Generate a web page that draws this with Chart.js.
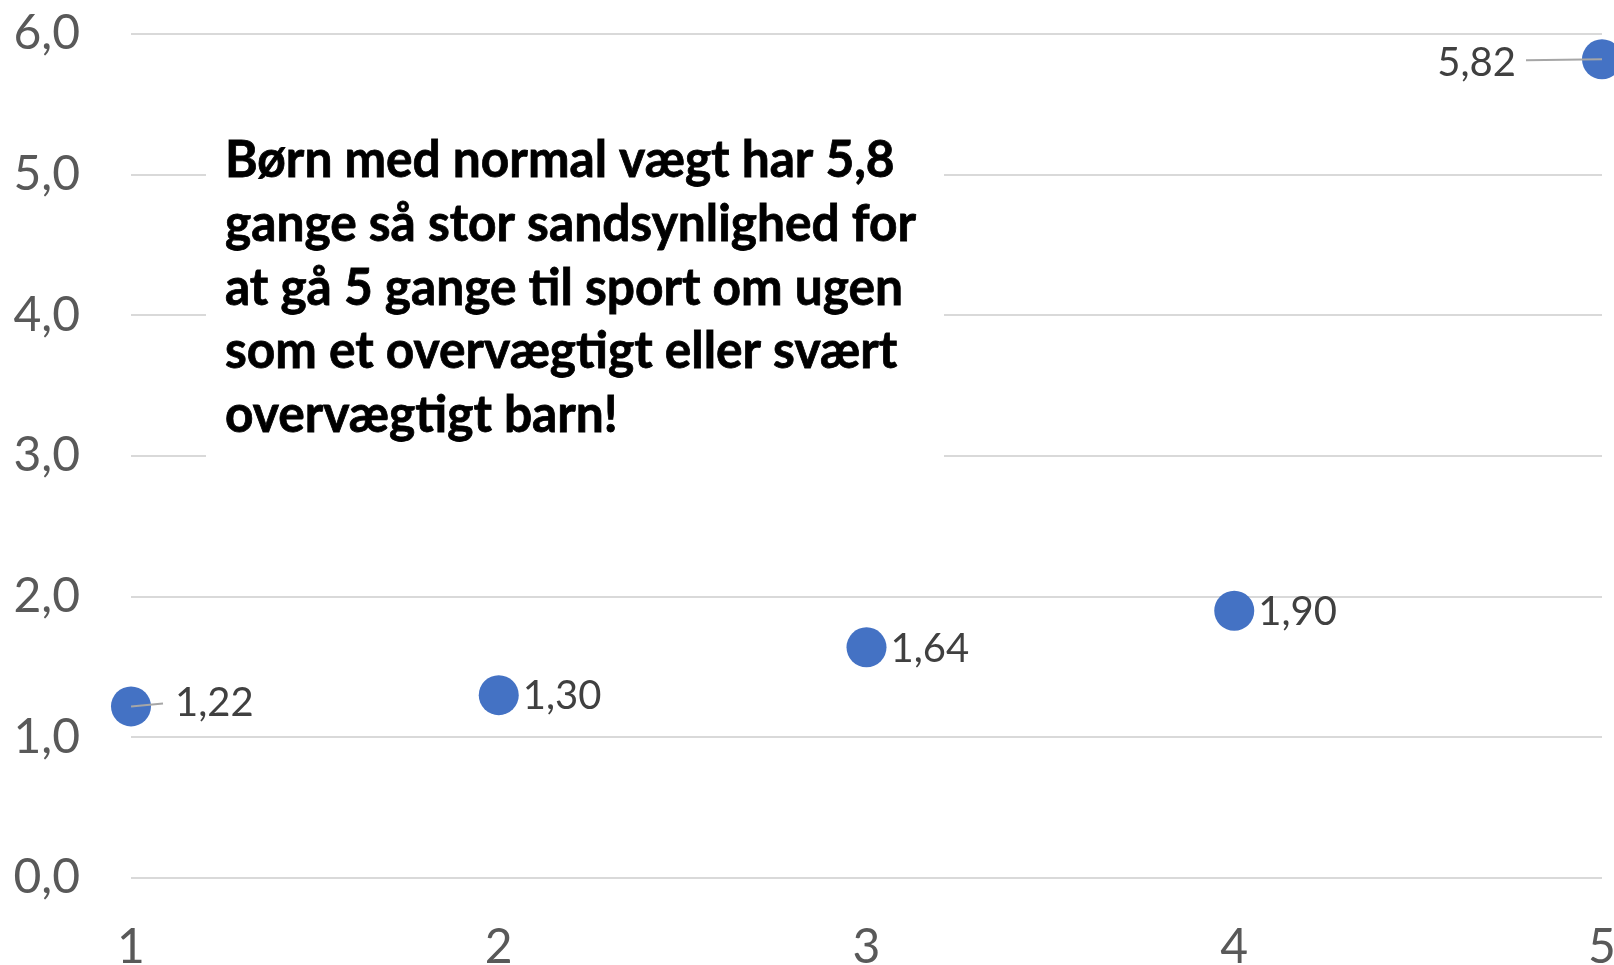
<!DOCTYPE html>
<html>
<head>
<meta charset="utf-8">
<script src="https://cdn.jsdelivr.net/npm/chart.js@4.4.1/dist/chart.umd.min.js"></script>
<style>
  html, body { margin: 0; padding: 0; background: #ffffff; overflow: hidden; }
  #wrap { width: 1614px; height: 965px; }
</style>
</head>
<body>
<div id="wrap"><canvas id="c" width="1614" height="965"></canvas></div>
<script>
// ---- data ----
const xValues = [1, 2, 3, 4, 5];
const yValues = [1.22, 1.30, 1.64, 1.90, 5.82];
const xTickValues = [1, 2, 3, 4, 5];
const yTickValues = [0, 1, 2, 3, 4, 5, 6];
const noteLines = [
  'Børn med normal vægt har 5,8',
  'gange så stor sandsynlighed for',
  'at gå 5 gange til sport om ugen',
  'som et overvægtigt eller svært',
  'overvægtigt barn!'
];

// ---- styles (label placement relative to each point) ----
const labelStyle = [
  { dx: 44, dy: -3, align: 'left', leader: [32, -3] },
  { dx: 24, dy: 1, align: 'left' },
  { dx: 24, dy: 2, align: 'left' },
  { dx: 24, dy: 1, align: 'left' },
  { dx: -86, dy: 4, align: 'right', leader: [-76, 1] }
];

const fmt = v => Number(v).toFixed(2).replace('.', ',');
const fmt1 = v => Number(v).toFixed(1).replace('.', ',');

const noteBoxPlugin = {
  id: 'noteBox',
  beforeDatasetsDraw(chart) {
    const ctx = chart.ctx;
    ctx.save();
    ctx.fillStyle = '#ffffff';
    ctx.fillRect(206, 128, 738, 342);
    let size = 52;
    ctx.font = 'bold ' + size + 'px Lato';
    let maxW = 0;
    noteLines.forEach(l => { maxW = Math.max(maxW, ctx.measureText(l).width); });
    const target = 691;
    ctx.fillStyle = '#000000';
    ctx.strokeStyle = '#000000';
    ctx.lineWidth = 0.8;
    ctx.textBaseline = 'alphabetic';
    ctx.textAlign = 'left';
    const sx = target / maxW;
    noteLines.forEach((l, i) => {
      ctx.save();
      ctx.translate(225, 177 + i * 63.8);
      ctx.scale(sx, 1);
      ctx.fillText(l, 0, 0);
      ctx.strokeText(l, 0, 0);
      ctx.restore();
    });
    ctx.restore();
  }
};

const labelPlugin = {
  id: 'pointLabels',
  afterDatasetsDraw(chart) {
    const ctx = chart.ctx;
    const meta = chart.getDatasetMeta(0);
    ctx.save();
    meta.data.forEach((pt, i) => {
      const s = labelStyle[i];
      if (s.leader) {
        ctx.strokeStyle = '#a6a6a6';
        ctx.lineWidth = 2;
        ctx.beginPath();
        ctx.moveTo(pt.x, pt.y);
        ctx.lineTo(pt.x + s.leader[0], pt.y + s.leader[1]);
        ctx.stroke();
      }
      ctx.font = '40px Lato';
      ctx.fillStyle = '#404040';
      ctx.textAlign = s.align;
      ctx.textBaseline = 'middle';
      ctx.fillText(fmt(yValues[i]), pt.x + s.dx, pt.y + s.dy);
    });
    ctx.restore();
  }
};

new Chart(document.getElementById('c'), {
  type: 'scatter',
  data: {
    datasets: [{
      data: xValues.map((x, i) => ({ x: x, y: yValues[i] })),
      backgroundColor: '#4472C4',
      borderColor: '#4472C4',
      borderWidth: 0,
      pointRadius: 20,
      pointHoverRadius: 20,
      clip: false
    }]
  },
  options: {
    responsive: false,
    animation: false,
    events: [],
    layout: { autoPadding: false, padding: { top: 34, right: 12, left: 0, bottom: 0 } },
    plugins: { legend: { display: false }, tooltip: { enabled: false } },
    scales: {
      x: {
        type: 'linear',
        min: 1, max: 5,
        afterBuildTicks(scale) { scale.ticks = xTickValues.map(v => ({ value: v })); },
        afterFit(scale) { scale.paddingLeft = 0; scale.paddingRight = 0; scale.height = 87; },
        grid: { display: false, drawTicks: false },
        border: { display: false },
        ticks: {
          font: { family: 'Lato', size: 48 },
          color: '#595959',
          padding: 41,
          maxRotation: 0,
          autoSkip: false,
          callback: v => String(v)
        }
      },
      y: {
        min: 0, max: 6,
        afterBuildTicks(scale) { scale.ticks = yTickValues.map(v => ({ value: v })); },
        afterFit(scale) { scale.width = 131; scale.paddingTop = 0; scale.paddingBottom = 0; },
        grid: { color: '#d9d9d9', lineWidth: 2, drawTicks: false },
        border: { display: false },
        ticks: {
          font: { family: 'Lato', size: 48 },
          color: '#595959',
          padding: 51,
          callback: v => fmt1(v)
        }
      }
    }
  },
  plugins: [noteBoxPlugin, labelPlugin]
});
</script>
</body>
</html>
